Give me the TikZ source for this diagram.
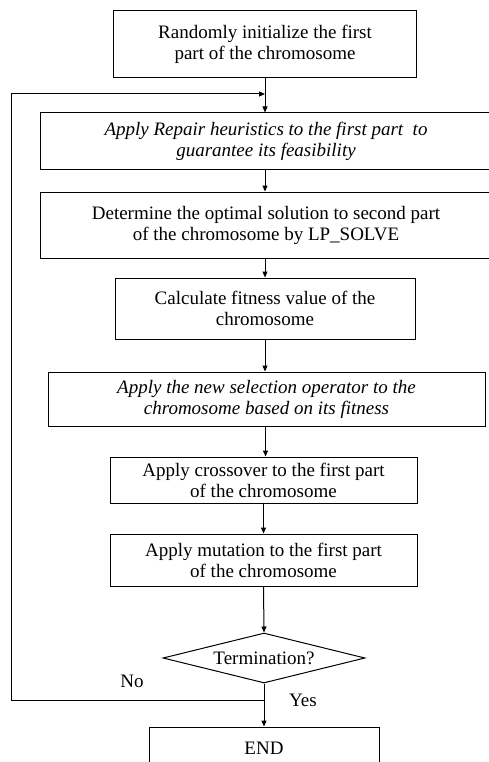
\documentclass[tikz,border=0pt]{standalone}
\usepackage{fontspec}
\setmainfont{Liberation Serif}
\usetikzlibrary{arrows.meta,shapes.geometric}
\begin{document}
\begin{tikzpicture}[x=1pt,y=-1pt,
  font=\fontsize{19}{21}\selectfont,
  line width=1pt,
  box/.style={draw,rectangle,align=center,inner sep=0pt},
  dec/.style={draw,diamond,aspect=4,inner sep=0pt,minimum width=202pt,minimum height=50pt},
  arr/.style={-{Triangle[length=6pt,width=5pt]}},
  lbl/.style={inner sep=0pt}]
\useasboundingbox (0,0) rectangle (489,762);
\clip (0,0) rectangle (489,762);
\node[box,minimum width=303pt,minimum height=67pt] (n1) at (265,44.5) {Randomly initialize the first\\part of the chromosome};
\node[box,minimum width=452pt,minimum height=57pt] (n2) at (266,141.5) {\itshape Apply Repair heuristics to the first part\ \ to\\\itshape guarantee its feasibility};
\node[box,minimum width=452pt,minimum height=66pt] (n3) at (266,225) {Determine the optimal solution to second part\\of the chromosome by LP\_SOLVE};
\node[box,minimum width=300pt,minimum height=61pt] (n4) at (265,308.5) {Calculate fitness value of the\\chromosome};
\node[box,minimum width=437pt,minimum height=54pt] (n5) at (266.5,399) {\itshape Apply the new selection operator to the\\\itshape chromosome based on its fitness};
\node[box,minimum width=307pt,minimum height=46pt] (n6) at (263.5,480) {Apply crossover to the first part\\of the chromosome};
\node[box,minimum width=307pt,minimum height=52pt] (n7) at (263.5,560) {Apply mutation to the first part\\of the chromosome};
\node[dec] (d) at (264,658) {Termination?};
\node[box,minimum width=230pt,minimum height=42pt] (e) at (264,748) {END};
\node[lbl] (no) at (132,681) {No};
\node[lbl] (yes) at (303,700) {Yes};
\coordinate (j1) at (265,94);
\coordinate (j2) at (264,700);
\coordinate (c1) at (11,700);
\coordinate (c2) at (11,94);
\draw[arr] (n1.south -| j1) -- (n2.north -| j1);
\draw[arr] (n2.south -| j1) -- (n3.north -| j1);
\draw[arr] (n3.south -| j1) -- (n4.north -| j1);
\draw[arr] (n4.south -| j1) -- (n5.north -| j1);
\draw[arr] (n5.south) ++(-1,0) coordinate (t5) -- (n6.north -| t5);
\draw[arr] (n6.south) -- (n7.north);
\draw[arr] (n7.south) -- (d.north);
\draw[arr] (d.south) -- (e.north);
\draw[arr] (j2) -- (c1) -- (c2) -- (j1);
\end{tikzpicture}
\end{document}
